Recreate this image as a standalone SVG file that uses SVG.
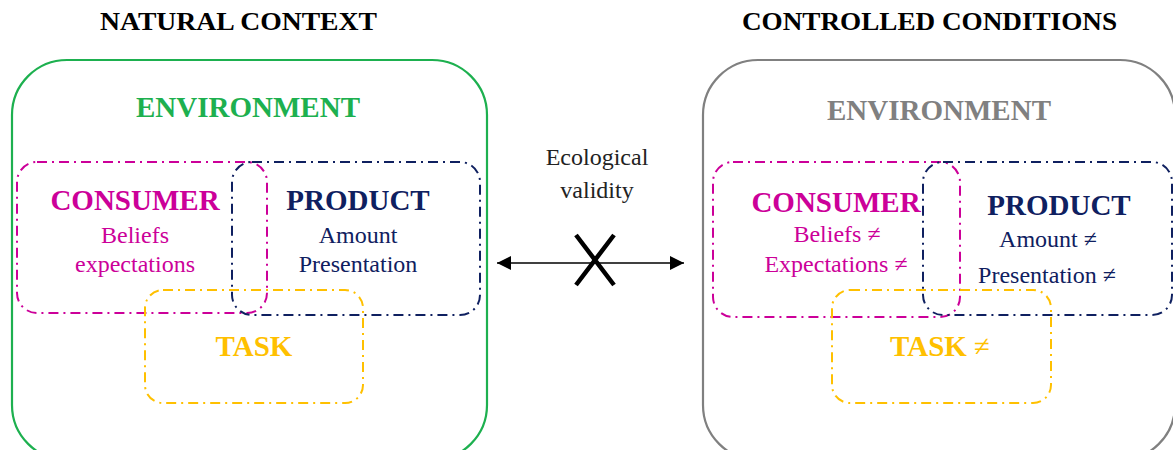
<svg xmlns="http://www.w3.org/2000/svg" width="1173" height="450" viewBox="0 0 1173 450">
<style>
text{font-family:"Liberation Serif","Times New Roman",serif;text-anchor:middle}
.title{font-size:26px;font-weight:bold;fill:#000}
.head{font-size:29px;font-weight:bold}
.sub{font-size:24px}
.env{fill:none;stroke-width:2.2}
.dd{fill:none;stroke-width:2;stroke-dasharray:10 5 2 5}
.mag{fill:#cc0099}
.nav{fill:#0f2060}
.yel{fill:#ffc000}
</style>
<defs>
<marker id="ah" viewBox="0 0 10 10" refX="10" refY="5" markerWidth="14" markerHeight="14" markerUnits="userSpaceOnUse" orient="auto-start-reverse">
<path d="M0,0 L10,5 L0,10 Z" fill="#000"/>
</marker>
</defs>
<text class="title" x="238.5" y="30" textLength="277" lengthAdjust="spacingAndGlyphs">NATURAL CONTEXT</text>
<text class="title" x="929.5" y="30" textLength="375" lengthAdjust="spacingAndGlyphs">CONTROLLED CONDITIONS</text>

<g id="env-natural">
<rect class="env" x="12" y="60" width="475" height="400" rx="55" stroke="#1db04f"/>
<text class="head" x="248" y="117" fill="#1db04f">ENVIRONMENT</text>
</g>
<g id="consumer-natural">
<rect class="dd" x="17" y="162" width="250" height="151" rx="20" stroke="#cc0099"/>
<text class="head mag" x="135" y="210">CONSUMER</text>
<text class="sub mag" x="135" y="243">Beliefs</text>
<text class="sub mag" x="135" y="272">expectations</text>
</g>
<g id="product-natural">
<rect class="dd" x="232" y="162" width="248" height="153" rx="20" stroke="#0f2060"/>
<text class="head nav" x="358" y="210">PRODUCT</text>
<text class="sub nav" x="358" y="243">Amount</text>
<text class="sub nav" x="358" y="272">Presentation</text>
</g>
<g id="task-natural">
<rect class="dd" x="145" y="290" width="218" height="113" rx="18" stroke="#ffc000"/>
<text class="head yel" x="254" y="356">TASK</text>
</g>

<g id="env-controlled">
<rect class="env" x="703" y="60" width="472" height="400" rx="55" stroke="#808080"/>
<text class="head" x="939" y="120" fill="#808080">ENVIRONMENT</text>
</g>
<g id="consumer-controlled">
<rect class="dd" x="713" y="162" width="247" height="155" rx="20" stroke="#cc0099"/>
<text class="head mag" x="836" y="212">CONSUMER</text>
<text class="sub mag" x="837" y="242">Beliefs ≠</text>
<text class="sub mag" x="836" y="272">Expectations ≠</text>
</g>
<g id="product-controlled">
<rect class="dd" x="923" y="162" width="249" height="153" rx="20" stroke="#0f2060"/>
<text class="head nav" x="1059" y="215">PRODUCT</text>
<text class="sub nav" x="1048" y="247">Amount ≠</text>
<text class="sub nav" x="1047" y="283">Presentation ≠</text>
</g>
<g id="task-controlled">
<rect class="dd" x="832" y="290" width="219" height="113" rx="18" stroke="#ffc000"/>
<text class="head yel" x="940" y="356">TASK <tspan font-weight="normal">≠</tspan></text>
</g>

<g id="connectors">
<text class="sub" x="597" y="165" font-size="25" fill="#222">Ecological</text>
<text class="sub" x="597" y="198" font-size="25" fill="#222">validity</text>
<line x1="497" y1="263" x2="684" y2="263" stroke="#000" stroke-width="1.5" marker-start="url(#ah)" marker-end="url(#ah)"/>
<path d="M576,235 L614,285 M614,235 L576,285" stroke="#000" stroke-width="4.5" fill="none"/>
</g>
</svg>
